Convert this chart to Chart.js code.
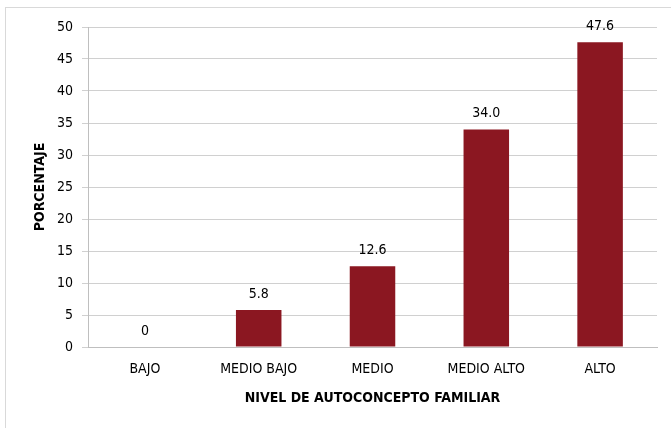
<!DOCTYPE html>
<html>
<head>
<meta charset="utf-8">
<script src="https://cdn.jsdelivr.net/npm/chart.js@4/dist/chart.umd.min.js"></script>
<style>
  html, body { margin: 0; padding: 0; background: #fff; }
  #wrap { position: relative; width: 671px; height: 428px; overflow: hidden; }
  #frame { position: absolute; left: 5px; top: 7px; width: 700px; height: 460px; border: 1px solid #d9d9d9; box-sizing: border-box; }
  canvas { position: absolute; left: 0; top: 0; }
</style>
</head>
<body>
<div id="wrap">
  <div id="frame"></div>
  <canvas id="c" width="671" height="428"></canvas>
</div>
<script>
const categories = ["BAJO", "MEDIO BAJO", "MEDIO", "MEDIO ALTO", "ALTO"];
const values = [0, 5.8, 12.6, 34.0, 47.6];
const valueLabels = ["0", "5.8", "12.6", "34.0", "47.6"];
const yTitle = "PORCENTAJE";
const xTitle = "NIVEL DE AUTOCONCEPTO FAMILIAR";

const FONT = "'DejaVu Sans Condensed', sans-serif";

const labelPlugin = {
  id: 'labels',
  afterDatasetsDraw(chart) {
    const ctx = chart.ctx;
    const meta = chart.getDatasetMeta(0);
    ctx.save();
    ctx.fillStyle = '#000';
    ctx.font = '14px ' + FONT;
    ctx.textAlign = 'center';
    ctx.textBaseline = 'bottom';
    meta.data.forEach((bar, i) => {
      ctx.fillText(valueLabels[i], bar.x, bar.y - 9);
    });
    ctx.restore();
  },
  afterDraw(chart) {
    const ctx = chart.ctx;
    const a = chart.chartArea;
    ctx.save();
    ctx.fillStyle = '#000';
    ctx.font = 'bold 14px ' + FONT;
    ctx.textAlign = 'center';
    ctx.textBaseline = 'middle';
    ctx.fillText(xTitle, (a.left + a.right) / 2, 398);
    ctx.translate(40, (a.top + a.bottom) / 2);
    ctx.rotate(-Math.PI / 2);
    ctx.fillText(yTitle, 0, 0);
    ctx.restore();
  }
};

new Chart(document.getElementById('c'), {
  type: 'bar',
  data: {
    labels: categories,
    datasets: [{
      data: values,
      backgroundColor: '#8B1721',
      borderWidth: 0,
      barPercentage: 0.4,
      categoryPercentage: 1.0
    }]
  },
  options: {
    responsive: false,
    animation: false,
    devicePixelRatio: 1,
    layout: { padding: { left: 0, top: 27, right: 14, bottom: 0 } },
    plugins: { legend: { display: false }, tooltip: { enabled: false } },
    scales: {
      x: {
        grid: { display: false },
        border: { display: true, color: '#bfbfbf', width: 1 },
        ticks: { color: '#000', font: { family: FONT, size: 14 }, padding: 6, maxRotation: 0 },
        afterFit(s) { s.height = 81; }
      },
      y: {
        min: 0, max: 50,
        ticks: { stepSize: 5, color: '#000', font: { family: FONT, size: 14 }, padding: 9 },
        grid: { color: '#d0d0d0', tickLength: 6, drawTicks: true },
        border: { display: true, color: '#bfbfbf', width: 1 },
        afterFit(s) { s.width = 88; }
      }
    }
  },
  plugins: [labelPlugin]
});
</script>
</body>
</html>
